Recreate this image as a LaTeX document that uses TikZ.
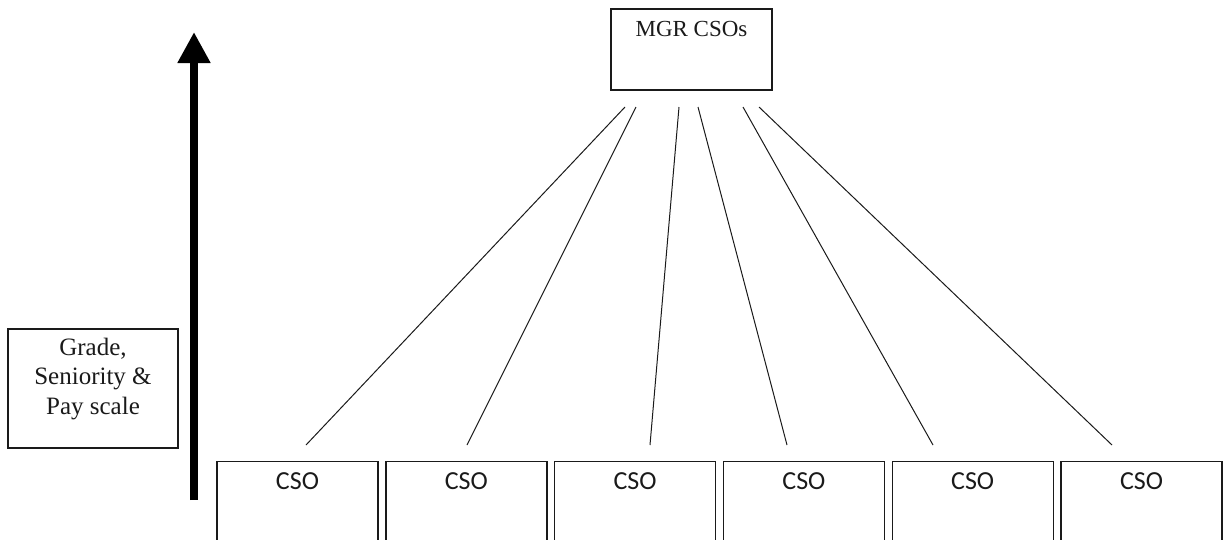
\documentclass[tikz,border=0pt]{standalone}
\usepackage{fontspec}
\setmainfont{Liberation Serif}
\newfontfamily\calibrifont{Carlito}
\usetikzlibrary{arrows.meta}
\definecolor{ink}{HTML}{1A1A1A}
\begin{document}
\begin{tikzpicture}[x=1pt,y=-1pt,
  boxline/.style={draw=ink, line width=1.4pt, inner sep=0pt},
  mgrbox/.style={boxline, minimum width=161pt, minimum height=81pt},
  sidebox/.style={boxline, minimum width=170pt, minimum height=119pt},
  csobox/.style={boxline, anchor=north, minimum width=161pt, minimum height=110pt},
  serifcap/.style={text=ink, font=\fontsize{23}{29.5}\selectfont, inner sep=0pt},
  sidetext/.style={text=ink, font=\fontsize{25}{29.5}\selectfont, align=center, inner sep=0pt},
  csocap/.style={text=ink, font=\calibrifont\fontsize{26}{30}\selectfont, inner sep=0pt},
  link/.style={draw=ink, line width=1pt},
  scalearrow/.style={draw=black, line width=8pt, -{Triangle[width=31pt,length=31pt]}}
]
\useasboundingbox (0,0) rectangle (1225,539);
\clip (0,0) rectangle (1225,539);

% manager box
\node[mgrbox] (mgr) at (691.5,49.5) {};
\node[serifcap] (mgrtext) at (691.5,29) {MGR CSOs};

% side label and seniority arrow
\node[sidebox] (side) at (93,388.5) {};
\node[sidetext] (sidetxt) at (93,379) {Grade,\\Seniority \&\\Pay scale};
\coordinate (arrbot) at (194,500);
\coordinate (arrtop) at (194,32);
\draw[scalearrow] (arrbot) -- (arrtop);

% officer boxes
\foreach \i/\x in {1/297.5, 2/466.3, 3/635.1, 4/803.9, 5/972.7, 6/1141.5}{
  \node[csobox] (c\i) at (\x,461) {};
  \node[csocap] (c\i t) at (\x,481) {CSO};
}

% connector end points
\coordinate (t1) at (625,107);
\coordinate (t2) at (636,107);
\coordinate (t3) at (679,107);
\coordinate (t4) at (698,107);
\coordinate (t5) at (743,107);
\coordinate (t6) at (759,107);
\coordinate (b1) at (306,445);
\coordinate (b2) at (467,445);
\coordinate (b3) at (650,445);
\coordinate (b4) at (787,445);
\coordinate (b5) at (933,445);
\coordinate (b6) at (1112,445);
\foreach \i in {1,...,6}{
  \draw[link] (t\i) -- (b\i);
}
\end{tikzpicture}
\end{document}
